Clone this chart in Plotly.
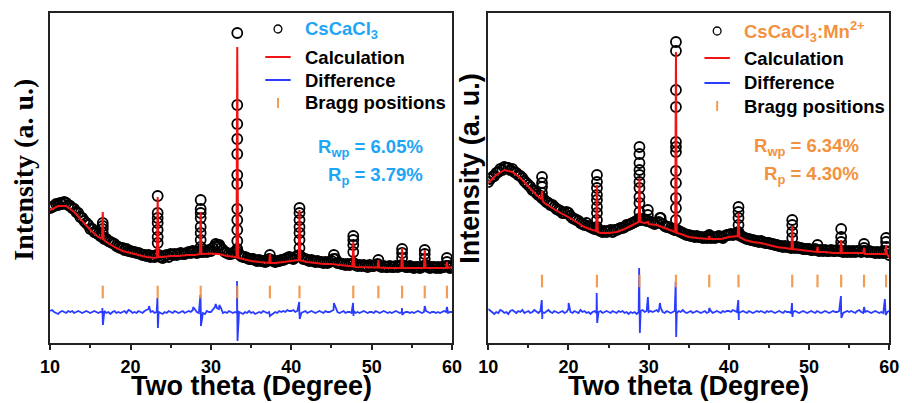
import numpy as np
import plotly.graph_objects as go

# ---------------- shared 2-theta grid for the observed background and difference ----------------
grid = np.linspace(10, 60, 201)  # 0.25 degree steps
tick_values = [10, 20, 30, 40, 50, 60]
tick_labels = ["10", "20", "30", "40", "50", "60"]

# ---------------- CsCaCl3 (left panel) ----------------
left_obs = [
    135, 136, 137, 139, 138, 140, 139, 141, 140, 138, 137, 135, 134, 131, 130, 126, 125, 122, 120, 118,
    114, 114, 111, 110, 109, 107, 106, 104, 104, 102, 101, 100, 99, 97, 96, 95, 95, 93, 94, 92,
    92, 91, 91, 90, 90, 89, 88, 88, 87, 88, 86, 87, 86, 88, 88, 86, 85, 87, 88, 86,
    89, 88, 89, 88, 89, 90, 89, 89, 90, 91, 90, 92, 91, 90, 92, 91, 91, 92, 91, 93,
    92, 95, 97, 96, 97, 95, 93, 91, 90, 89, 89, 90, 91, 92, 89, 87, 86, 86, 85, 84,
    84, 84, 83, 82, 83, 82, 82, 81, 82, 84, 83, 82, 81, 82, 82, 83, 83, 84, 85, 86,
    85, 84, 86, 87, 88, 86, 84, 84, 83, 82, 83, 82, 81, 82, 81, 81, 80, 81, 80, 81,
    82, 84, 84, 80, 80, 79, 79, 78, 79, 78, 79, 80, 78, 77, 78, 77, 78, 77, 76, 78,
    77, 77, 78, 79, 77, 76, 77, 76, 76, 77, 76, 76, 77, 76, 77, 78, 77, 76, 76, 77,
    76, 75, 76, 76, 75, 76, 77, 78, 76, 75, 76, 76, 75, 76, 75, 76, 76, 77, 77, 75,
    76,
]
left_peak_cols = {
    16.55: [110, 114, 117, 120],
    23.38: [100, 106, 113, 120, 125, 130, 147],
    28.73: [96, 103, 110, 116, 125, 130, 134, 143],
    30.6: [99],
    31.05: [98],
    33.28: [94, 102, 113, 123, 134, 159, 168, 189, 204, 219, 238, 310],
    37.34: [88],
    41.02: [95, 103, 110, 116, 123, 130, 135],
    45.3: [88],
    47.71: [91, 98, 103, 107],
    50.83: [83],
    53.78: [85, 90, 94],
    56.6: [84, 89, 93],
    59.36: [81, 85],
}
left_calc_x = [10, 11, 12, 13, 14, 15, 16, 16.45, 16.55, 16.65, 17, 18, 19, 20, 21, 22, 23, 23.28, 23.38, 23.48,
               24, 25, 26, 27, 28, 28.63, 28.73, 28.83, 29, 30, 31, 32, 33, 33.18, 33.28, 33.38, 34, 35, 36, 37,
               37.24, 37.34, 37.44, 38, 39, 40, 40.92, 41.02, 41.12, 42, 43, 44, 45, 46, 47, 47.61, 47.71, 47.81,
               48, 49, 50, 50.73, 50.83, 50.93, 52, 53, 53.68, 53.78, 53.88, 55, 56, 56.5, 56.6, 56.7, 57, 58,
               59, 59.26, 59.36, 59.46, 60]
left_calc_y = [133, 137, 137, 131, 122, 113, 106, 104.5, 131, 103.5, 101, 96, 92, 90, 88, 86, 85, 85.5, 146, 86,
               86, 87, 87, 88, 88, 89, 131, 89, 89, 89.5, 89, 87, 86, 86, 296, 85, 84, 82, 81, 80,
               80, 89, 80, 80, 81, 82, 83, 133, 82.5, 81, 80, 79, 79, 78, 77, 76.5, 101, 76.5,
               76, 76, 76, 75.5, 83, 75.5, 75, 75, 75, 95, 75, 75, 75, 75, 93, 75, 75, 75,
               75, 75, 81, 75, 76]
left_diff = [
    32, 33, 31, 30, 29, 31, 32, 31, 30, 32, 31, 32, 30, 31, 32, 31, 30, 31, 32, 31,
    30, 31, 32, 31, 30, 31, 31, 32, 30, 31, 29, 31, 32, 30, 31, 30, 31, 32, 30, 33,
    32, 30, 31, 30, 32, 31, 30, 32, 33, 34, 31, 32, 30, 31, 31, 30, 29, 31, 30, 32,
    31, 30, 32, 31, 30, 31, 32, 30, 31, 32, 31, 33, 34, 31, 30, 31, 30, 29, 32, 31,
    31, 33, 36, 35, 34, 35, 30, 31, 30, 32, 31, 30, 31, 30, 31, 30, 29, 31, 30, 32,
    30, 31, 29, 30, 31, 30, 32, 31, 30, 31, 28, 30, 31, 30, 32, 31, 32, 31, 33, 32,
    32, 33, 31, 32, 31, 30, 31, 32, 30, 31, 32, 31, 30, 31, 32, 31, 30, 32, 31, 31,
    32, 33, 36, 31, 30, 31, 32, 30, 31, 31, 30, 32, 30, 31, 30, 31, 32, 31, 30, 31,
    31, 30, 32, 31, 30, 31, 32, 31, 30, 31, 30, 31, 32, 31, 30, 31, 30, 31, 31, 30,
    31, 30, 31, 32, 31, 30, 31, 32, 31, 30, 31, 31, 30, 31, 30, 31, 32, 31, 30, 31,
    31,
]
left_spike_x = [16.5, 16.57, 22.3, 23.35, 23.41, 27.8, 28.7, 28.76, 30.6, 31.05, 33.25, 33.31,
                37.34, 40.99, 41.05, 45.3, 47.68, 47.74, 53.76, 53.81, 56.6, 59.36]
left_spike_y = [35, 18, 37, 45, 15, 36, 48, 17, 39, 38, 62, 2,
                27, 41, 24, 40, 40, 27, 35, 28, 37, 36]
left_bragg = [16.55, 23.38, 28.73, 33.28, 37.34, 41.02, 47.71, 50.83, 53.78, 56.6, 59.36]
left_bragg_level = 51

# ---------------- CsCaCl3:Mn2+ (right panel) ----------------
right_obs = [
    161, 164, 166, 167, 170, 171, 174, 173, 176, 175, 175, 173, 174, 171, 170, 168, 167, 165, 162, 160,
    158, 156, 153, 152, 150, 148, 147, 145, 143, 141, 140, 138, 138, 136, 134, 133, 132, 130, 130, 131,
    130, 127, 125, 124, 123, 122, 120, 119, 118, 120, 117, 116, 115, 114, 114, 113, 112, 111, 112, 111,
    112, 113, 111, 113, 113, 114, 115, 115, 116, 118, 118, 119, 120, 121, 122, 124, 123, 124, 123, 122,
    122, 121, 120, 119, 120, 121, 125, 119, 117, 116, 116, 115, 114, 113, 113, 112, 111, 110, 109, 108,
    108, 107, 107, 106, 107, 106, 106, 105, 106, 105, 107, 105, 106, 105, 106, 107, 106, 105, 107, 108,
    108, 109, 108, 109, 110, 108, 107, 106, 105, 104, 104, 103, 103, 102, 102, 101, 102, 101, 100, 100,
    100, 99, 99, 98, 98, 97, 97, 96, 97, 96, 96, 95, 96, 95, 96, 95, 95, 94, 94, 94,
    94, 93, 93, 94, 93, 92, 93, 92, 93, 92, 92, 93, 92, 92, 93, 92, 92, 91, 92, 91,
    92, 91, 92, 91, 92, 92, 91, 92, 92, 91, 92, 91, 91, 90, 91, 90, 91, 90, 92, 91,
    88,
]
right_peak_cols = {
    16.7: [145, 150, 156, 160, 166],
    23.55: [116, 123, 130, 136, 143, 148, 155, 161, 168],
    28.85: [123, 131, 140, 146, 155, 161, 168, 173, 180, 189, 196],
    29.9: [128, 133],
    31.4: [125],
    33.4: [113, 123, 135, 145, 160, 172, 191, 196, 201, 236, 253, 292, 301],
    37.55: [108],
    41.2: [111, 118, 125, 131, 136],
    47.9: [105, 111, 118, 123],
    51.05: [98],
    54.0: [96, 101, 106, 114],
    56.85: [95, 99],
    59.6: [96, 101, 105],
}
right_calc_x = [10, 11, 12, 13, 14, 15, 16, 16.6, 16.7, 16.8, 17, 18, 19, 20, 21, 22, 23, 23.45, 23.55, 23.65,
                24, 25, 26, 27, 28, 28.5, 28.75, 28.85, 28.95, 29.5, 29.9, 30, 31, 32, 33, 33.3, 33.4, 33.5,
                34, 35, 36, 37, 37.45, 37.55, 37.65, 38, 39, 40, 41, 41.1, 41.2, 41.3, 42, 43, 44, 45, 46, 47,
                47.8, 47.9, 48, 49, 50, 50.95, 51.05, 51.15, 52, 53, 53.9, 54.0, 54.1, 55, 56, 56.75, 56.85,
                56.95, 57, 58, 59, 59.5, 59.6, 59.7, 60]
right_calc_y = [160, 168, 173, 171, 165, 156, 148, 144, 152, 142, 140, 135, 130, 126, 121, 116, 113, 112, 158, 111,
                110, 110, 111, 114, 118, 120, 121, 165, 121, 120, 121, 119, 118, 115, 112, 111, 291, 110,
                109, 106, 105, 104, 104, 107, 104, 104, 104, 106, 107, 107, 130, 106, 103, 101, 100, 98, 96, 95,
                94, 117, 94, 93, 92, 91, 96, 91, 91, 90, 90, 103, 90, 90, 90, 90, 95,
                90, 89, 89, 89, 89, 98, 89, 86]
right_diff = [
    34, 32, 30, 29, 31, 30, 33, 32, 30, 31, 29, 32, 33, 31, 30, 32, 31, 33, 30, 31,
    32, 30, 31, 33, 31, 30, 32, 31, 30, 32, 33, 31, 30, 32, 31, 30, 31, 32, 30, 31,
    34, 31, 30, 32, 31, 30, 33, 31, 32, 30, 31, 29, 31, 32, 30, 31, 32, 30, 31, 32,
    31, 30, 32, 31, 30, 32, 31, 32, 30, 31, 29, 31, 30, 31, 29, 31, 32, 33, 31, 32,
    31, 32, 31, 32, 33, 31, 35, 31, 30, 32, 31, 30, 31, 32, 30, 32, 31, 33, 31, 30,
    31, 32, 30, 31, 32, 31, 30, 31, 32, 30, 31, 32, 30, 31, 32, 31, 30, 32, 31, 32,
    32, 31, 33, 32, 31, 30, 31, 32, 31, 30, 32, 31, 30, 31, 32, 31, 32, 31, 30, 32,
    31, 32, 31, 30, 31, 32, 31, 30, 32, 31, 31, 30, 31, 32, 31, 30, 31, 32, 31, 30,
    31, 32, 31, 30, 32, 31, 30, 31, 32, 31, 30, 31, 32, 31, 31, 32, 31, 30, 31, 32,
    31, 32, 31, 30, 32, 33, 31, 30, 31, 32, 31, 30, 31, 32, 31, 30, 31, 30, 32, 31,
    32,
]
right_spike_x = [16.67, 16.73, 20.02, 23.52, 23.58, 28.81, 28.9, 29.9, 31.4, 33.37, 33.43, 37.55,
                 41.17, 41.24, 47.87, 47.93, 53.97, 54.03, 56.85, 59.45, 59.55]
right_spike_y = [43, 24, 40, 50, 20, 75, 10, 46, 40, 61, 6, 35,
                 43, 23, 40, 26, 47, 25, 36, 44, 28]
right_bragg = [16.7, 23.55, 28.85, 33.4, 37.55, 41.2, 47.9, 51.05, 54.0, 56.85, 59.6]
right_bragg_level = 62

# ---------------- styling ----------------
SANS = "Liberation Sans"
SERIF = "Liberation Serif"
RED = "#f01414"
BLUE = "#2a3cff"
ORANGE = "#f29240"
SKY = "#1ea5f5"
W, H = 912, 403


def px_x(p):
    return p / W


def px_y(p):
    return (H - p) / H


def panel_traces(obs, cols, cx, cy, diff, sx, sy, bragg, blevel, xa, ya):
    ox = list(grid)
    oy = list(obs)
    for pos, vals in cols.items():
        ox += [pos] * len(vals)
        oy += vals
    dx = np.concatenate([grid, sx])
    dy = np.concatenate([diff, sy])
    order = np.argsort(dx, kind="stable")
    common = dict(xaxis=xa, yaxis=ya, showlegend=False, hoverinfo="skip")
    return [
        go.Scatter(x=ox, y=oy, mode="markers", name="Observed",
                   marker=dict(symbol="circle-open", size=10, color="black", line=dict(width=1.8)),
                   **common),
        go.Scatter(x=cx, y=cy, mode="lines", name="Calculation",
                   line=dict(color=RED, width=2), **common),
        go.Scatter(x=dx[order], y=dy[order], mode="lines", name="Difference",
                   line=dict(color=BLUE, width=1.8), **common),
        go.Scatter(x=bragg, y=[blevel] * len(bragg), mode="markers", name="Bragg positions",
                   marker=dict(symbol="line-ns", size=9, color=ORANGE,
                               line=dict(color=ORANGE, width=2.2)),
                   opacity=0.9, **common),
    ]


fig = go.Figure()
for tr in panel_traces(left_obs, left_peak_cols, left_calc_x, left_calc_y, left_diff,
                       left_spike_x, left_spike_y, left_bragg, left_bragg_level, "x", "y"):
    fig.add_trace(tr)
for tr in panel_traces(right_obs, right_peak_cols, right_calc_x, right_calc_y, right_diff,
                       right_spike_x, right_spike_y, right_bragg, right_bragg_level, "x2", "y2"):
    fig.add_trace(tr)

xaxis_style = dict(
    range=[10, 60], tickvals=tick_values, ticktext=[f"<b>{t}</b>" for t in tick_labels],
    ticks="outside", ticklen=5, tickwidth=1.5,
    tickcolor="#222", showline=True, linecolor="#222", linewidth=1.5, mirror=True,
    minor=dict(tickvals=[15, 25, 35, 45, 55], ticks="outside", ticklen=3, tickwidth=1.5, tickcolor="#222"),
    tickfont=dict(family=SANS, size=18, color="black"), ticklabelstandoff=2,
    showgrid=False, zeroline=False,
)
yaxis_style = dict(
    range=[0, 330], showticklabels=False, ticks="", showline=True, linecolor="#222", linewidth=1.5,
    mirror=True, showgrid=False, zeroline=False,
)
ydom = [px_y(343), px_y(13)]

fig.update_layout(
    width=W, height=H, margin=dict(l=0, r=0, t=0, b=0),
    paper_bgcolor="white", plot_bgcolor="white", showlegend=False,
    xaxis=dict(domain=[px_x(41), px_x(452)], anchor="y", **xaxis_style),
    yaxis=dict(domain=ydom, anchor="x", **yaxis_style),
    xaxis2=dict(domain=[px_x(489), px_x(899)], anchor="y2", **xaxis_style),
    yaxis2=dict(domain=ydom, anchor="x2", **yaxis_style),
)

ann = []
shapes = []


def text(t, x, y, size, color="black", family=SANS, xanchor="left", angle=0):
    ann.append(dict(text=t, x=px_x(x), y=px_y(y), xref="paper", yref="paper", showarrow=False,
                    xanchor=xanchor, yanchor="middle", textangle=angle, borderpad=0,
                    font=dict(family=family, size=size, color=color)))


# axis titles
for cx in (246.5, 694):
    text("<b>Two theta (Degree)</b>", cx, 386, 27, xanchor="center")
text("<b>Intensity (a. u.)</b>", 13, 170, 28, family=SERIF, xanchor="center", angle=-90)
text("<b>Intensity (a. u.)</b>", 470, 168, 27, xanchor="center", angle=-90)

# legend keys and labels for both panels
for (sx, tx, rows, sample, scol) in [
    (274, 301, (29, 57, 80, 103), "<b>CsCaCl<sub>3</sub></b>", SKY),
    (723, 749, (31, 58, 83, 106), "<b>CsCaCl<sub>3</sub>:Mn<sup>2+</sup></b>", ORANGE),
]:
    r0, r1, r2, r3 = rows
    shapes.append(dict(type="circle", xref="paper", yref="paper", x0=px_x(sx - 4), x1=px_x(sx + 4),
                       y0=px_y(r0 - 4), y1=px_y(r0 + 4), line=dict(color="black", width=1.3)))
    shapes.append(dict(type="line", xref="paper", yref="paper", x0=px_x(sx - 13), x1=px_x(sx + 13),
                       y0=px_y(r1), y1=px_y(r1), line=dict(color=RED, width=2)))
    shapes.append(dict(type="line", xref="paper", yref="paper", x0=px_x(sx - 13), x1=px_x(sx + 13),
                       y0=px_y(r2), y1=px_y(r2), line=dict(color=BLUE, width=2)))
    shapes.append(dict(type="line", xref="paper", yref="paper", x0=px_x(sx), x1=px_x(sx),
                       y0=px_y(r3 - 5), y1=px_y(r3 + 5), line=dict(color=ORANGE, width=2), opacity=0.9))
    text(sample, tx, r0 + 1, 18.5, color=scol)
    text("<b>Calculation</b>", tx, r1, 18.5)
    text("<b>Difference</b>", tx, r2, 18.5)
    text("<b>Bragg positions</b>", tx, r3, 18.5)

# refinement factors
for txt, xr, yc, col in [
    ("<b>R<sub>wp</sub> = 6.05%</b>", 423, 148, SKY),
    ("<b>R<sub>p</sub> = 3.79%</b>", 423, 176, SKY),
    ("<b>R<sub>wp</sub> = 6.34%</b>", 869, 147, ORANGE),
    ("<b>R<sub>p</sub> = 4.30%</b>", 869, 175, ORANGE),
]:
    text(txt, xr, yc, 18.5, color=col, xanchor="right")

fig.update_layout(annotations=ann, shapes=shapes)

fig.write_html("out.html")
